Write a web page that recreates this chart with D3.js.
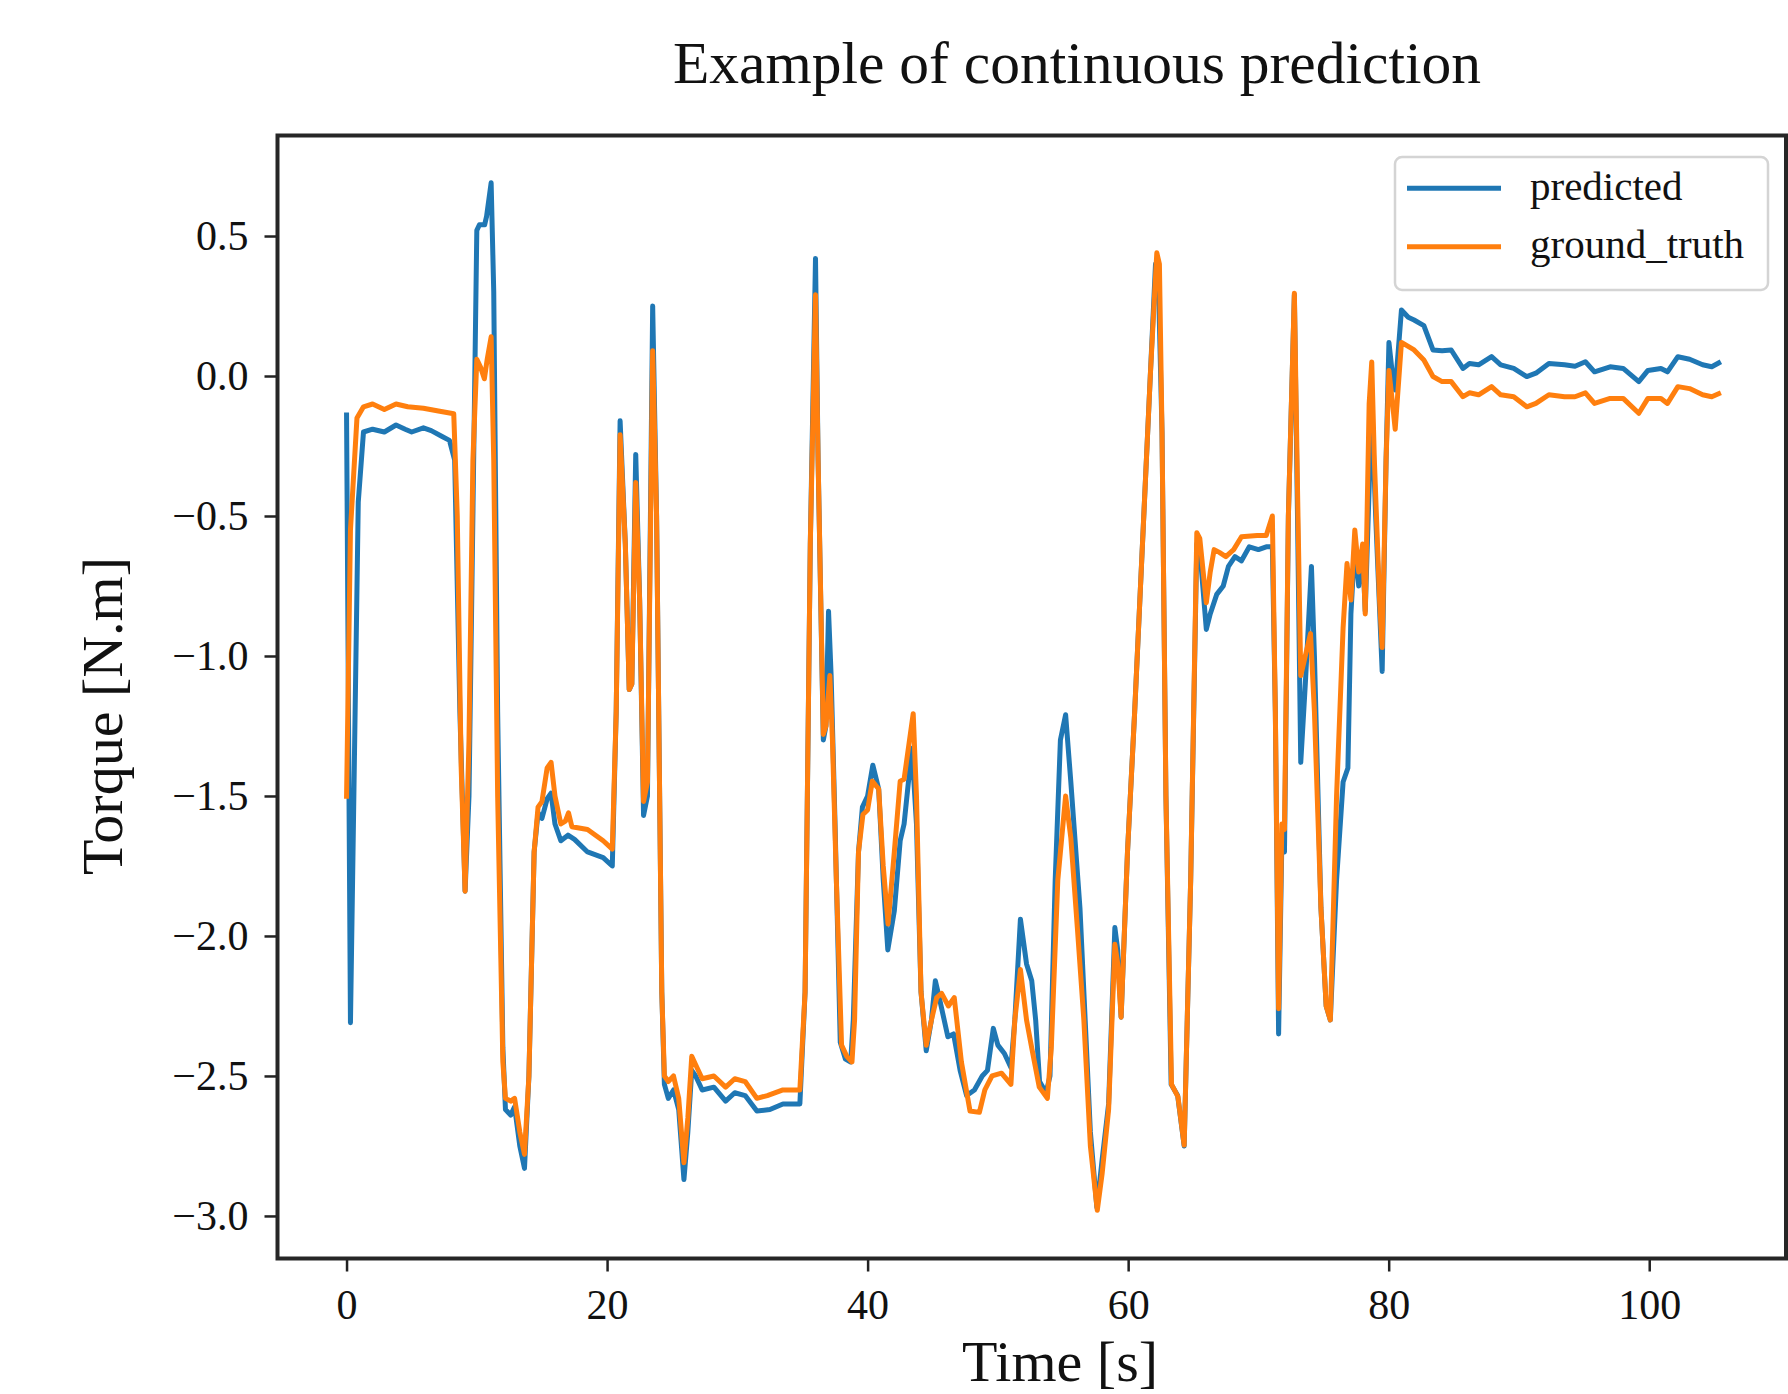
<!DOCTYPE html>
<html>
<head>
<meta charset="utf-8">
<script src="https://cdn.jsdelivr.net/npm/d3@7/dist/d3.min.js"></script>
<style>
  body { margin: 0; background: #fff; }
  svg text { font-family: "Liberation Serif", "Times New Roman", serif; fill: #111; }
</style>
</head>
<body>
<script>
// values
var title = "Example of continuous prediction";
var xLabel = "Time [s]";
var yLabel = "Torque [N.m]";
var seriesNames = ["predicted", "ground_truth"];
var xTicks = [0, 20, 40, 60, 80, 100];
var yTicks = [-3.0, -2.5, -2.0, -1.5, -1.0, -0.5, 0.0, 0.5];

var predTime = [0.0,0.3,0.9,1.3,2.0,2.9,3.8,4.5,5.0,5.9,6.5,7.3,7.9,8.3,8.7,9.1,9.4,9.7,10.0,10.2,10.6,10.75,11.1,11.3,11.6,12.0,12.2,12.6,12.9,13.3,13.66,14.0,14.4,14.7,15.0,15.4,15.7,16.0,16.45,17.0,17.5,18.5,19.7,20.4,20.7,21.0,21.4,21.7,21.9,22.2,22.5,22.8,23.1,23.5,23.8,24.2,24.4,24.7,25.1,25.5,25.9,26.2,26.5,26.8,27.3,28.2,29.1,29.8,30.6,31.5,32.5,33.5,34.8,35.2,35.6,36.0,36.2,36.6,36.8,37.0,37.2,37.5,37.9,38.3,38.7,38.9,39.3,39.6,40.0,40.4,40.85,41.2,41.55,42.05,42.5,42.8,43.4,43.75,44.1,44.5,44.9,45.2,45.5,46.16,46.6,47.1,47.6,48.2,48.8,49.2,49.65,50.0,50.5,51.0,51.3,51.73,52.2,52.6,52.9,53.2,53.7,54.0,54.4,54.8,55.2,55.6,56.3,56.7,57.1,57.6,58.0,58.5,58.98,59.2,59.46,59.95,60.5,60.9,61.3,61.7,62.1,62.3,62.6,62.9,63.3,63.8,64.3,64.8,65.27,65.5,66.0,66.3,66.8,67.3,67.7,68.2,68.7,69.3,70.0,70.6,71.07,71.3,71.55,71.8,72.0,72.3,72.76,73.0,73.25,73.6,74.07,74.3,74.8,75.2,75.52,76.0,76.5,76.87,77.1,77.4,77.7,78.0,78.2,78.5,78.7,79.0,79.5,79.8,80.02,80.3,80.5,80.98,81.5,81.95,82.7,83.4,84.1,84.8,85.7,86.2,86.9,87.9,88.6,89.6,90.6,91.3,92.3,93.5,94.3,95.1,95.8,97.0,98.0,99.2,99.9,100.9,101.4,102.2,103.1,104.1,104.8,105.5];
var predicted = [-0.13,-2.31,-0.45,-0.2,-0.19,-0.2,-0.175,-0.19,-0.2,-0.185,-0.195,-0.215,-0.23,-0.3,-1.2,-1.84,-1.5,-0.5,0.52,0.54,0.54,0.57,0.69,0.3,-1.2,-2.4,-2.62,-2.64,-2.61,-2.75,-2.83,-2.5,-1.7,-1.56,-1.58,-1.51,-1.49,-1.6,-1.66,-1.64,-1.655,-1.7,-1.72,-1.75,-1.2,-0.16,-0.6,-1.12,-1.1,-0.28,-0.8,-1.57,-1.5,0.25,-0.5,-2.2,-2.53,-2.58,-2.55,-2.62,-2.87,-2.7,-2.48,-2.5,-2.55,-2.54,-2.59,-2.56,-2.57,-2.625,-2.62,-2.6,-2.6,-2.2,-0.6,0.42,-0.3,-1.3,-1.25,-0.84,-1.07,-1.6,-2.38,-2.44,-2.45,-2.3,-1.7,-1.54,-1.5,-1.39,-1.475,-1.8,-2.05,-1.91,-1.66,-1.6,-1.33,-1.6,-2.2,-2.41,-2.3,-2.16,-2.22,-2.36,-2.35,-2.48,-2.57,-2.55,-2.5,-2.48,-2.33,-2.39,-2.42,-2.47,-2.3,-1.94,-2.1,-2.16,-2.3,-2.52,-2.56,-2.5,-1.8,-1.3,-1.21,-1.45,-1.9,-2.3,-2.7,-2.97,-2.8,-2.6,-1.97,-2.05,-2.29,-1.7,-1.2,-0.8,-0.4,0.0,0.4,0.38,-0.2,-1.5,-2.53,-2.57,-2.75,-1.8,-0.6,-0.62,-0.905,-0.85,-0.78,-0.75,-0.68,-0.645,-0.66,-0.61,-0.62,-0.61,-0.61,-1.2,-2.35,-1.66,-1.7,-0.5,0.29,-0.5,-1.38,-1.1,-0.68,-1.0,-1.9,-2.25,-2.3,-1.8,-1.45,-1.4,-0.85,-0.6,-0.75,-0.62,-0.84,-0.4,-0.1,-0.5,-1.055,-0.3,0.12,0.0,-0.05,0.236,0.21,0.2,0.18,0.093,0.09,0.093,0.027,0.045,0.04,0.069,0.04,0.027,-0.002,0.01,0.045,0.04,0.035,0.051,0.015,0.033,0.027,-0.02,0.02,0.027,0.015,0.069,0.06,0.04,0.033,0.051];

var truthTime = [0.0,0.3,0.8,1.3,2.0,2.9,3.8,4.7,5.9,7.05,8.23,8.5,8.8,9.1,9.4,9.7,10.0,10.3,10.58,10.8,11.1,11.3,11.6,12.0,12.2,12.6,12.9,13.3,13.66,14.0,14.4,14.7,15.0,15.4,15.7,16.0,16.45,16.8,17.04,17.3,18.5,19.7,20.4,20.7,21.0,21.4,21.7,21.9,22.2,22.5,22.8,23.1,23.5,23.8,24.2,24.4,24.7,25.1,25.5,25.9,26.2,26.5,26.8,27.3,28.2,29.1,29.8,30.6,31.5,32.3,33.5,34.8,35.2,35.6,36.0,36.2,36.6,36.8,37.1,37.3,37.6,38.0,38.4,38.8,39.0,39.3,39.64,40.0,40.36,40.85,41.2,41.57,42.05,42.5,42.8,43.5,43.75,44.1,44.5,44.9,45.3,45.68,46.2,46.65,47.2,47.86,48.58,49.0,49.55,50.28,51.0,51.3,51.73,52.2,52.6,53.18,53.8,54.1,54.6,55.2,55.6,56.1,56.6,57.1,57.63,58.0,58.5,58.98,59.2,59.46,59.95,60.5,60.9,61.3,61.7,62.2,62.4,62.6,62.9,63.33,63.82,64.3,64.8,65.27,65.5,66.0,66.3,66.6,67.0,67.5,68.1,68.7,69.9,70.6,71.07,71.3,71.55,71.8,72.0,72.3,72.76,73.0,73.25,73.6,74.0,74.3,74.8,75.2,75.52,76.0,76.5,76.8,77.1,77.4,77.7,78.0,78.2,78.5,78.7,78.9,79.3,79.5,79.8,80.02,80.3,80.5,80.98,81.95,82.7,83.4,84.1,84.8,85.7,86.2,86.9,87.9,88.6,89.6,90.6,91.3,92.3,93.5,94.3,95.1,95.8,97.0,98.0,99.2,99.9,100.9,101.4,102.2,103.1,104.1,104.8,105.5];
var groundTruth = [-1.51,-0.55,-0.15,-0.11,-0.1,-0.12,-0.1,-0.11,-0.115,-0.125,-0.135,-0.5,-1.4,-1.84,-1.3,-0.3,0.06,0.03,-0.01,0.06,0.14,-0.3,-1.5,-2.45,-2.58,-2.59,-2.58,-2.7,-2.78,-2.5,-1.7,-1.54,-1.52,-1.4,-1.38,-1.5,-1.6,-1.59,-1.56,-1.61,-1.62,-1.66,-1.69,-1.2,-0.21,-0.6,-1.12,-1.1,-0.38,-0.8,-1.52,-1.45,0.09,-0.5,-2.2,-2.5,-2.52,-2.5,-2.58,-2.81,-2.65,-2.43,-2.46,-2.51,-2.5,-2.54,-2.51,-2.52,-2.58,-2.57,-2.55,-2.55,-2.2,-0.6,0.29,-0.3,-1.28,-1.25,-1.07,-1.3,-1.8,-2.39,-2.43,-2.45,-2.3,-1.7,-1.566,-1.55,-1.447,-1.475,-1.75,-1.957,-1.7,-1.447,-1.44,-1.206,-1.5,-2.2,-2.39,-2.3,-2.22,-2.205,-2.25,-2.22,-2.45,-2.625,-2.63,-2.55,-2.5,-2.49,-2.53,-2.3,-2.12,-2.3,-2.4,-2.54,-2.58,-2.4,-1.8,-1.5,-1.65,-1.97,-2.3,-2.75,-2.98,-2.85,-2.62,-2.03,-2.1,-2.29,-1.7,-1.2,-0.8,-0.4,0.0,0.44,0.4,-0.2,-1.5,-2.53,-2.574,-2.747,-1.8,-0.56,-0.58,-0.81,-0.7,-0.62,-0.63,-0.645,-0.62,-0.574,-0.57,-0.57,-0.5,-1.2,-2.26,-1.6,-1.62,-0.5,0.296,-0.4,-1.07,-1.0,-0.92,-1.2,-1.9,-2.25,-2.3,-1.5,-0.9,-0.67,-0.8,-0.55,-0.7,-0.6,-0.85,-0.1,0.05,-0.3,-0.8,-0.97,-0.3,0.02,-0.1,-0.19,0.12,0.093,0.057,-0.002,-0.02,-0.02,-0.074,-0.06,-0.067,-0.038,-0.067,-0.074,-0.11,-0.098,-0.067,-0.074,-0.074,-0.06,-0.098,-0.08,-0.08,-0.133,-0.08,-0.08,-0.098,-0.038,-0.045,-0.067,-0.074,-0.06];

var colors = ["#1f77b4", "#ff7f0e"];

var width = 1788, height = 1394;
var plot = {left: 277.5, top: 135.5, right: 1786, bottom: 1258.5};

var svg = d3.select("body").append("svg")
    .attr("width", width)
    .attr("height", height);

var x = d3.scaleLinear().domain([-5.3, 110.5]).range([plot.left, plot.right]);
var y = d3.scaleLinear().domain([-3.152, 0.859]).range([plot.bottom, plot.top]);

//build point lists for the two series
var series = [
    d3.zip(predTime, predicted),
    d3.zip(truthTime, groundTruth)
];

var line = d3.line()
    .x(function(d) { return x(d[0]); })
    .y(function(d) { return y(d[1]); });

svg.append("g").selectAll("path")
    .data(series)
    .enter()
  .append("path")
    .attr("d", line)
    .attr("fill", "none")
    .attr("stroke", function(d, i) { return colors[i]; })
    .attr("stroke-width", 5)
    .attr("stroke-linejoin", "round");

//axes
var yAxis = svg.append("g")
    .attr("transform", "translate(" + plot.left + ",0)")
    .call(d3.axisLeft(y).tickValues(yTicks).tickFormat(d3.format(".1f"))
        .tickSize(13).tickPadding(16).tickSizeOuter(0));
var xAxis = svg.append("g")
    .attr("transform", "translate(0," + plot.bottom + ")")
    .call(d3.axisBottom(x).tickValues(xTicks).tickFormat(d3.format("d"))
        .tickSize(13).tickPadding(18).tickSizeOuter(0));

[xAxis, yAxis].forEach(function(ax) {
    ax.select(".domain").remove();
    ax.selectAll(".tick line").attr("stroke", "#222").attr("stroke-width", 2.5);
    ax.selectAll(".tick text")
        .attr("font-size", 42)
        .attr("font-family", "Liberation Serif, Times New Roman, serif")
        .attr("fill", "#111");
});

//frame
svg.append("rect")
    .attr("x", plot.left)
    .attr("y", plot.top)
    .attr("width", plot.right - plot.left)
    .attr("height", plot.bottom - plot.top)
    .attr("fill", "none")
    .attr("stroke", "#262626")
    .attr("stroke-width", 4);

//title and labels
svg.append("text")
    .attr("x", 1077)
    .attr("y", 83)
    .attr("text-anchor", "middle")
    .attr("font-size", 59.5)
    .text(title);

svg.append("text")
    .attr("x", 1060)
    .attr("y", 1381)
    .attr("text-anchor", "middle")
    .attr("font-size", 58)
    .text(xLabel);

svg.append("text")
    .attr("transform", "translate(122,716) rotate(-90)")
    .attr("text-anchor", "middle")
    .attr("font-size", 58)
    .text(yLabel);

//legend
var legend = svg.append("g");
legend.append("rect")
    .attr("x", 1395)
    .attr("y", 157)
    .attr("width", 373)
    .attr("height", 133)
    .attr("rx", 7)
    .attr("fill", "#fff")
    .attr("fill-opacity", 0.8)
    .attr("stroke", "#d4d4d4")
    .attr("stroke-width", 2.5);

var items = legend.selectAll(".item")
    .data(seriesNames)
    .enter()
  .append("g")
    .attr("class", "item")
    .attr("transform", function(d, i) { return "translate(0," + (i * 58.4) + ")"; });

items.append("line")
    .attr("x1", 1407)
    .attr("x2", 1501)
    .attr("y1", 188.3)
    .attr("y2", 188.3)
    .attr("stroke", function(d, i) { return colors[i]; })
    .attr("stroke-width", 5);

items.append("text")
    .attr("x", 1530)
    .attr("y", 200)
    .attr("font-size", 41)
    .text(function(d) { return d; });
</script>
</body>
</html>
